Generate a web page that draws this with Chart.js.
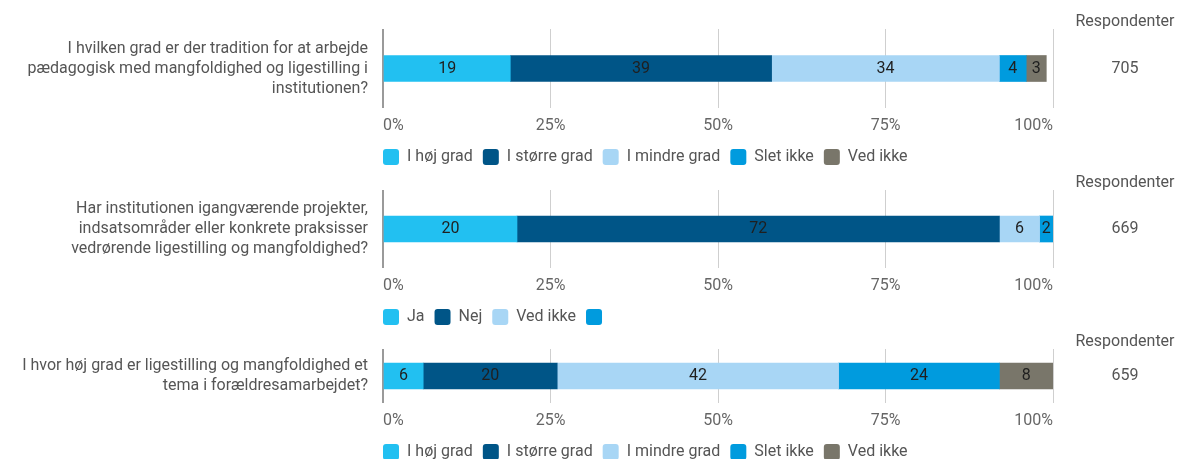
<!DOCTYPE html>
<html lang="da">
<head>
<meta charset="utf-8">
<title>Ligestilling og mangfoldighed</title>
<script src="https://cdn.jsdelivr.net/npm/chart.js@4"></script>
<style>
  html, body { margin: 0; padding: 0; background: #fff; overflow: hidden; }
  body { position: relative; width: 1180px; height: 459px; }
  .panel { position: absolute; left: 0; width: 1180px; }
</style>
</head>
<body>
<div class="panel" style="top:0;height:175px"><canvas id="c1"></canvas></div>
<div class="panel" style="top:161px;height:174px"><canvas id="c2"></canvas></div>
<div class="panel" style="top:320px;height:150px"><canvas id="c3"></canvas></div>

<script>
// answer categories
const gradLabels = ['I høj grad', 'I større grad', 'I mindre grad', 'Slet ikke', 'Ved ikke'];
const jaNejLabels = ['Ja', 'Nej', 'Ved ikke', ''];

// questions
const q1 = ['I hvilken grad er der tradition for at arbejde', 'pædagogisk med mangfoldighed og ligestilling i', 'institutionen?'];
const q2 = ['Har institutionen igangværende projekter,', 'indsatsområder eller konkrete praksisser', 'vedrørende ligestilling og mangfoldighed?'];
const q3 = ['I hvor høj grad er ligestilling og mangfoldighed et', 'tema i forældresamarbejdet?'];

// shares in percent
const q1Values = [19, 39, 34, 4, 3];
const q2Values = [20, 72, 6, 2];
const q3Values = [6, 20, 42, 24, 8];

// number of respondents
const q1Count = 705;
const q2Count = 669;
const q3Count = 659;

const xTicks = [0, 25, 50, 75, 100];

const colors = ['#22c0f1', '#005587', '#a8d6f5', '#009bde', '#79766a'];

const FONT = 'Roboto';

// numbers inside the bar segments
const valueLabels = {
  id: 'valueLabels',
  afterDatasetsDraw(chart) {
    const { ctx } = chart;
    ctx.save();
    ctx.font = '16px ' + FONT;
    ctx.fillStyle = '#1f1f1f';
    ctx.textAlign = 'center';
    ctx.textBaseline = 'middle';
    chart.data.datasets.forEach((ds, i) => {
      chart.getDatasetMeta(i).data.forEach((bar, j) => {
        const { x, base, y } = bar.getProps(['x', 'base', 'y'], true);
        ctx.fillText(ds.data[j], (x + base) / 2, y);
      });
    });
    ctx.restore();
  }
};

// "Respondenter" header and count on the right
const respondents = {
  id: 'respondents',
  afterDraw(chart, args, opts) {
    const { ctx, chartArea } = chart;
    const cx = chartArea.right + 72;
    ctx.save();
    ctx.font = '16px ' + FONT;
    ctx.fillStyle = '#555';
    ctx.textAlign = 'center';
    ctx.textBaseline = 'middle';
    ctx.fillText('Respondenter', cx, 22);
    ctx.fillText(opts.count, cx, chart.scales.y.getPixelForValue(0));
    ctx.restore();
  }
};

// legend starts flush with the 0% line
const legendLeft = {
  id: 'legendLeft',
  afterLayout(chart) {
    chart.legend.left -= 10;
    chart.legend.right -= 10;
  }
};

function makePanel(id, question, labels, values, count) {
  return new Chart(document.getElementById(id), {
    type: 'bar',
    data: {
      labels: [question],
      datasets: labels.map((label, i) => ({
        label: label,
        data: [values[i]],
        backgroundColor: colors[i],
        borderColor: colors[i],
        borderWidth: 0,
        barThickness: 26
      }))
    },
    options: {
      indexAxis: 'y',
      responsive: true,
      maintainAspectRatio: false,
      animation: false,
      layout: { padding: { top: 29, right: 127, left: 0, bottom: 0 } },
      scales: {
        x: {
          stacked: true,
          min: 0,
          max: 100,
          afterBuildTicks: (scale) => { scale.ticks = xTicks.map(v => ({ value: v })); },
          afterFit: (scale) => { scale.height = 31; },
          grid: {
            drawTicks: false,
            color: (c) => c.tick && c.tick.value === 0 ? '#9a9a9a' : '#cfcfcf',
            lineWidth: (c) => c.tick && c.tick.value === 0 ? 2 : 1
          },
          border: { display: false },
          ticks: {
            align: 'inner',
            padding: 8,
            color: '#666',
            font: { family: FONT, size: 16 },
            callback: (v) => v + '%'
          }
        },
        y: {
          stacked: true,
          afterFit: (scale) => {
            scale.width = 383;
            // the question text may overhang the plot area
            scale.paddingTop = 0;
            scale.paddingBottom = 0;
          },
          grid: { display: false, drawTicks: false },
          border: { display: false },
          ticks: {
            padding: 15,
            color: '#555',
            font: { family: FONT, size: 16, lineHeight: 1.25 }
          }
        }
      },
      plugins: {
        legend: {
          position: 'bottom',
          align: 'start',
          fullSize: false,
          labels: {
            boxWidth: 16,
            boxHeight: 16,
            padding: 10,
            useBorderRadius: true,
            borderRadius: 3,
            color: '#555',
            font: { family: FONT, size: 16 }
          }
        },
        tooltip: { enabled: false },
        respondents: { count: count }
      }
    },
    plugins: [valueLabels, respondents, legendLeft]
  });
}

makePanel('c1', q1, gradLabels, q1Values, q1Count);
makePanel('c2', q2, jaNejLabels, q2Values, q2Count);
makePanel('c3', q3, gradLabels, q3Values, q3Count);
</script>
</body>
</html>
